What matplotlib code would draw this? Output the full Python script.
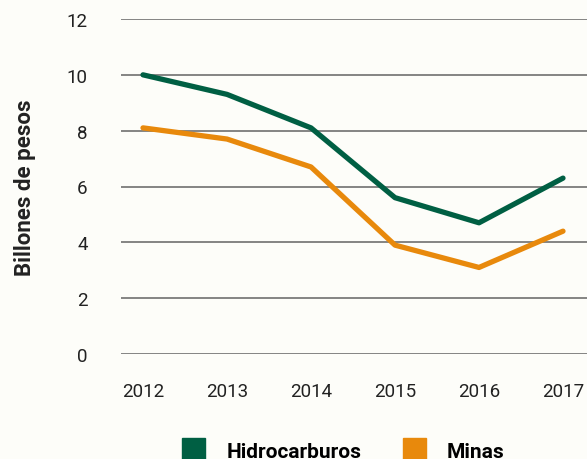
import matplotlib
matplotlib.use("Agg")
import matplotlib.pyplot as plt
from matplotlib.patches import Patch

years = [2012, 2013, 2014, 2015, 2016, 2017]
hidrocarburos = [10.0, 9.3, 8.1, 5.6, 4.7, 6.3]
minas = [8.1, 7.7, 6.7, 3.9, 3.1, 4.4]
yticks = [0, 2, 4, 6, 8, 10, 12]

GREEN = "#005f43"
ORANGE = "#e8890c"
BG = "#fdfdf9"

plt.rcParams["font.family"] = ["Roboto", "DejaVu Sans"]

fig = plt.figure(figsize=(5.87, 4.60), dpi=100, facecolor=BG)
ax = fig.add_axes([121 / 587, 105 / 460, 466 / 587, 335 / 460])
ax.set_facecolor(BG)

ax.plot(years, hidrocarburos, color=GREEN, lw=3.8, solid_capstyle="round", zorder=3)
ax.plot(years, minas, color=ORANGE, lw=3.8, solid_capstyle="round", zorder=3)

ax.set_ylim(0, 12)
ax.set_xlim(2012 - 22 / 84, 2012 + 444 / 84)
ax.set_yticks(yticks)
ax.set_xticks(years)
ax.grid(axis="y", color="#707070", lw=1.2)
ax.set_axisbelow(True)
for s in ax.spines.values():
    s.set_visible(False)
ax.tick_params(axis="both", length=0, labelsize=13.5, colors="#222222")
ax.tick_params(axis="y", pad=24)
ax.tick_params(axis="x", pad=20)

ax.set_ylabel("Billones de pesos", fontsize=16, fontweight="bold", color="#222222",
              labelpad=22)

handles = [Patch(color=GREEN, label="Hidrocarburos"), Patch(color=ORANGE, label="Minas")]
leg = fig.legend(handles=handles, loc="lower center", ncol=2, frameon=False,
                 handlelength=1.1, handleheight=1.4, columnspacing=2.0,
                 handletextpad=1.0, prop={"weight": "bold", "size": 15})
leg.set_bbox_to_anchor((0.585, -22 / 460), transform=fig.transFigure)

fig.savefig("out.png", dpi=100, facecolor=BG)
